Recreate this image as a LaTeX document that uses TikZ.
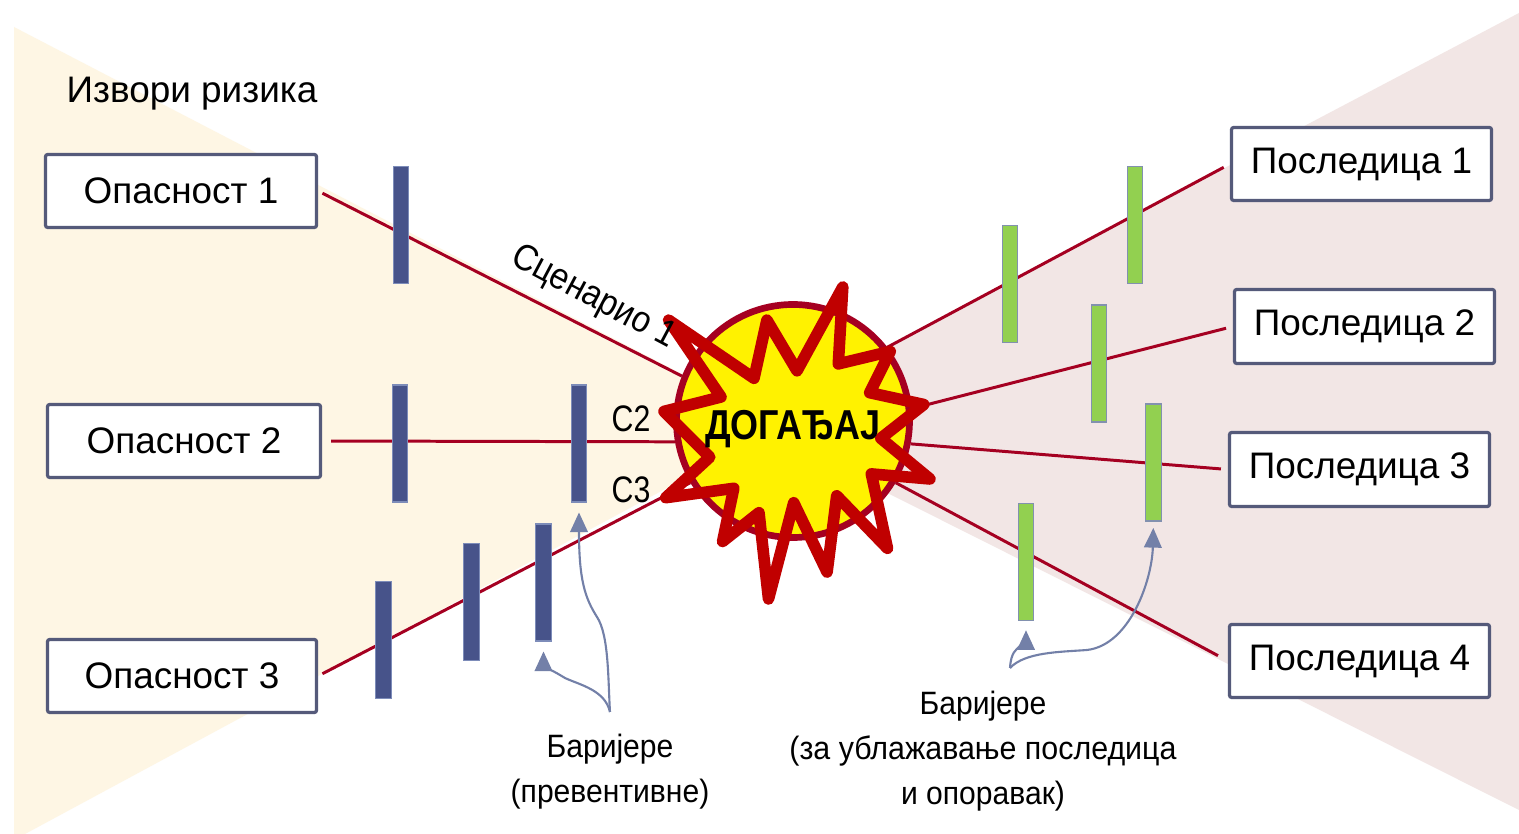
\documentclass[tikz,border=0pt]{standalone}
\usepackage{fontspec}
\usepackage{graphicx}
\setmainfont{Liberation Sans}
\usetikzlibrary{arrows.meta}
\definecolor{bgleft}{RGB}{254,246,228}
\definecolor{bgright}{RGB}{242,230,229}
\definecolor{scen}{RGB}{165,0,33}
\definecolor{starred}{RGB}{192,0,0}
\definecolor{boxline}{RGB}{85,90,122}
\definecolor{barblue}{RGB}{71,83,138}
\definecolor{barblueline}{RGB}{125,140,185}
\definecolor{bargreen}{RGB}{146,208,80}
\definecolor{bargreenline}{RGB}{130,145,175}
\definecolor{arrcol}{RGB}{115,128,168}
\begin{document}
\begin{tikzpicture}[x=0.1mm,y=-0.1mm,
  sidebox/.style={draw=boxline,line width=0.9pt,fill=white,rounded corners=0.6pt,
    minimum height=7.3mm,inner sep=0pt,font=\fontsize{10.5}{12}\selectfont},
  redline/.style={draw=scen,line width=0.85pt},
  bluebar/.style={draw=barblueline,line width=0.35pt,fill=barblue,minimum width=1.55mm,minimum height=11.7mm,inner sep=0pt},
  greenbar/.style={draw=bargreenline,line width=0.35pt,fill=bargreen,minimum width=1.55mm,minimum height=11.7mm,inner sep=0pt},
  lbl/.style={inner sep=0pt,font=\fontsize{10.5}{12}\selectfont},
  smalllbl/.style={inner sep=0pt,font=\fontsize{9.2}{11}\selectfont},
  arr/.style={draw=arrcol,line width=0.6pt,-{Triangle[length=5.6pt,width=5pt]}}
]
\useasboundingbox (0,0) rectangle (1519,834);
\fill[white] (0,0) rectangle (1519,834);
% backgrounds
\fill[bgleft] (14,27) -- (782,426) -- (25,834) -- (14,834) -- cycle;
\fill[bgright] (744,421) -- (1519,13) -- (1519,810) -- cycle;

% hazard boxes
\node[sidebox,minimum width=27.1mm] (o1) at (181,191) {Опасност 1};
\node[sidebox,minimum width=27.3mm] (o2) at (184,441) {Опасност 2};
\node[sidebox,minimum width=26.9mm] (o3) at (182,676) {Опасност 3};
% consequence boxes
\node[sidebox,minimum width=26.0mm] (p1) at (1361.5,164) {Последица 1};
\node[sidebox,minimum width=26.0mm,minimum height=7.4mm] (p2) at (1364.5,326.5) {Последица 2};
\node[sidebox,minimum width=26.0mm,minimum height=7.4mm] (p3) at (1359.5,469.5) {Последица 3};
\node[sidebox,minimum width=26.0mm] (p4) at (1359.5,661) {Последица 4};

% event circle
\node[circle,draw=scen,line width=1.9pt,fill=yellow,minimum size=23.3mm,inner sep=0pt] (ev) at (793,421) {};

% scenario lines
\draw[redline,shorten <=1.4pt] (o1.east) -- (ev.158.6);
\draw[redline,shorten <=2.6pt] (o2.east) -- (ev.190);
\draw[redline,shorten <=1.4pt] (o3.east) -- (ev.211.5);
\draw[redline,shorten >=2pt] (ev.38) -- (p1.west);
\draw[redline,shorten >=2pt] (ev.6.8) -- (p2.west);
\draw[redline,shorten >=2pt] (ev.349.4) -- (p3.west);
\draw[redline,shorten >=3.2pt] (ev.329.8) -- (p4.west);

% explosion star
\draw[starred,line width=3.3pt,line join=round]
  (797.0,370.8) -- (842.8,287) -- (838.3,363.9) -- (890.3,351.4) -- (869.7,392.7)
  -- (923.8,404.5) -- (880.8,438.3) -- (930,479.0) -- (871.3,473.9) -- (887.5,548.4)
  -- (836.7,495.8) -- (827.1,572.1) -- (793.7,502.7) -- (768.5,599) -- (759.0,512.7)
  -- (722.6,541.5) -- (733.8,488.3) -- (665.7,497.7) -- (709.8,457.1) -- (664,411.4)
  -- (721.0,397.0) -- (668.6,320.1) -- (754.0,378.3) -- (766.9,320.1) -- cycle;
\node[inner sep=0pt,anchor=base,font=\bfseries\fontsize{11.9}{14}\selectfont] (evt) at (793,440) {\scalebox{0.86}[1]{ДОГАЂАЈ}};

% barriers (preventive)
\node[bluebar] (b1) at (401,225) {};
\node[bluebar] (b2) at (400,443.5) {};
\node[bluebar] (b3) at (579,443.5) {};
\node[bluebar] (b4) at (543.5,582.5) {};
\node[bluebar] (b5) at (471.5,602) {};
\node[bluebar] (b6) at (383.5,640) {};
% barriers (mitigation)
\node[greenbar] (g1) at (1010,284) {};
\node[greenbar] (g2) at (1135,225) {};
\node[greenbar] (g3) at (1099,363.5) {};
\node[greenbar] (g4) at (1153.5,462.5) {};
\node[greenbar] (g5) at (1026,562) {};

% labels
\node[lbl,anchor=base west] (src) at (66,103) {Извори ризика};
\node[lbl,anchor=base,rotate=-28] (sc1) at (589,306) {\scalebox{0.9}[1]{Сценарио 1}};
\node[lbl,anchor=base west] (c2) at (611,432) {\scalebox{0.82}[1]{С2}};
\node[lbl,anchor=base west] (c3) at (611,503) {\scalebox{0.82}[1]{С3}};

\node[smalllbl,anchor=base] (bpl1) at (610,758) {\scalebox{0.93}[1]{Баријере}};
\node[smalllbl,anchor=base] (bpl2) at (610,803) {\scalebox{0.93}[1]{(превентивне)}};
\node[smalllbl,anchor=base] (bml1) at (983,715) {\scalebox{0.93}[1]{Баријере}};
\node[smalllbl,anchor=base] (bml2) at (983,760) {\scalebox{0.94}[1]{(за ублажавање последица}};
\node[smalllbl,anchor=base] (bml3) at (983,805) {\scalebox{0.93}[1]{и опоравак)}};

% pointer arrows
\coordinate (bl) at (610,712);
\coordinate (br) at (1010,668);
\draw[arr,shorten >=2.8pt] (bl) .. controls (608,680) and (609,635) .. (597,617)
  .. controls (585,598) and (579,580) .. (b3.south);
\draw[arr,shorten >=2.8pt] (bl) .. controls (605,690) and (580,685) .. (565,678)
  .. controls (555,672) and (543.5,665) .. (b4.south);
\draw[arr,shorten >=2.6pt] (br) .. controls (1011,652) and (1016,650) .. (1020,646)
  .. controls (1025,641) and (1026,638) .. (g5.south);
\draw[arr,shorten >=1.8pt] (br) .. controls (1025,652) and (1060,652) .. (1087,650)
  .. controls (1130,645) and (1152,580) .. (g4.south);
\end{tikzpicture}
\end{document}
